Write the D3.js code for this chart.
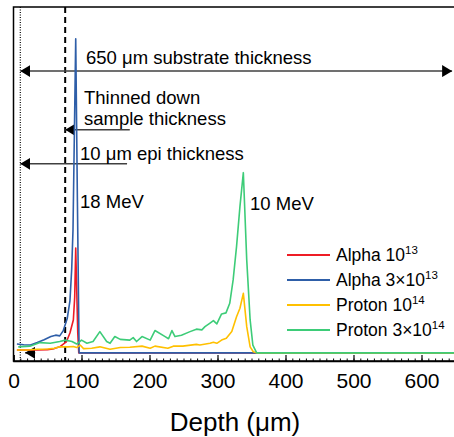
<!DOCTYPE html>
<html>
<head>
<meta charset="utf-8">
<script src="https://cdn.jsdelivr.net/npm/d3@7"></script>
<style>
  body { margin: 0; background: #fff; }
  text { font-family: "Liberation Sans", Arial, sans-serif; fill: #000; }
</style>
</head>
<body>
<div id="chart"></div>
<script>
var svgWidth = 454;
var svgHeight = 437;

// depth (um) and signal (arb. units) for each series
var depthAlpha13 = [5, 20, 35, 50, 60, 68, 78, 83, 88, 90, 91.5, 94.5, 96, 650];
var alpha13 = [3.1, 3.1, 3.1, 3.2, 3.5, 4.0, 5.5, 7.9, 11.6, 18, 31.9, 8, 2.3, 2.3];

var depthAlpha3e13 = [5, 15, 25, 35, 45, 55, 62, 68, 73, 79, 83, 85.6, 87.5, 91.5, 94, 96.5, 650];
var alpha3e13 = [4.8, 4.6, 4.5, 5.2, 6.0, 6.9, 7.3, 7.1, 8.5, 12, 17, 26, 37, 91, 45, 2.3, 2.3];

var depthProton14 = [5, 20, 35, 50, 60, 68, 80, 88, 93, 98, 103, 115, 127, 142, 157, 171, 189, 201, 208, 227,
  235, 249, 269, 274, 289, 294, 299, 306, 313, 321, 328, 333, 338, 343, 348, 352.6, 357.6, 650];
var proton14 = [3.1, 3.1, 3.3, 3.4, 3.6, 4.0, 4.0, 4.1, 3.8, 4.5, 3.5, 3.6, 4.0, 3.3, 3.8, 3.9, 4.2, 3.6, 4.2, 3.6,
  4.2, 4.2, 4.7, 4.5, 5.0, 5.3, 5.0, 5.9, 6.4, 8.3, 12.5, 14.9, 19.1, 9.7, 4.0, 2.6, 2.3, 2.3];

var depthProton3e14 = [7, 24, 39, 54, 68, 76, 86, 93, 100, 108, 117, 127, 137, 142, 149, 157, 171, 176, 181, 189,
  201, 208, 223, 228, 233, 237.5, 247, 259.6, 269, 277, 281.6, 289, 294, 299, 306, 312.5, 318, 323, 328, 333,
  338, 343, 348, 352, 357.6, 650];
var proton3e14 = [4.0, 4.2, 5.2, 5.0, 5.5, 5.9, 5.5, 4.8, 5.9, 5.0, 5.5, 8.3, 5.5, 5.0, 6.9, 6.1, 5.9, 6.6, 5.5, 6.9,
  5.9, 8.6, 6.9, 6.3, 8.6, 6.9, 7.3, 8.3, 9.0, 8.8, 9.7, 10.7, 11.4, 10.5, 13.3, 13.6, 16.3, 22.9, 32.3, 43.6,
  53.2, 28.5, 11.6, 4.5, 2.3, 2.3];

var seriesNames = ["Alpha 10", "Alpha 3\u00d710", "Proton 10", "Proton 3\u00d710"];
var seriesExp = ["13", "13", "14", "14"];
var seriesColors = ["#ee1c25", "#2e5ea8", "#ffc000", "#3dcc78"];

var xTicks = [0, 100, 200, 300, 400, 500, 600];

var epiDepth = 10;
var thinnedDepth = 76;

var svg = d3.select("#chart")
  .append("svg")
  .attr("width", svgWidth)
  .attr("height", svgHeight);

var x = d3.scaleLinear().domain([0, 650]).range([13.5, 455.5]);
var y = d3.scaleLinear().domain([0, 100]).range([361, 7]);

// frame
svg.append("rect")
  .attr("x", x(0)).attr("y", y(100))
  .attr("width", x(650) - x(0)).attr("height", y(0) - y(100))
  .attr("fill", "none").attr("stroke", "#000").attr("stroke-width", 1.5);

// minor ticks
svg.append("g")
  .attr("transform", `translate(0, ${y(0)})`)
  .call(d3.axisBottom(x).tickValues(d3.range(0, 651, 10)).tickSize(-2.5).tickFormat(""))
  .call(g => g.select(".domain").remove())
  .selectAll("line").attr("stroke-width", 1);

// major ticks + labels
var xAxis = svg.append("g")
  .attr("transform", `translate(0, ${y(0)})`)
  .call(d3.axisBottom(x).tickValues(xTicks).tickSize(-6).tickPadding(12).tickFormat(d3.format("d")));
xAxis.select(".domain").attr("stroke-width", 1.5);
xAxis.selectAll("line").attr("stroke-width", 1.2);
xAxis.selectAll("text")
  .style("font-family", "Liberation Sans, Arial, sans-serif")
  .style("font-size", "21px")
  .attr("fill", "#000");

svg.append("text")
  .attr("x", 235).attr("y", 431)
  .attr("text-anchor", "middle")
  .style("font-size", "26px")
  .text("Depth (\u03bcm)");

// reference lines
svg.append("line")
  .attr("x1", x(epiDepth)).attr("x2", x(epiDepth))
  .attr("y1", y(100)).attr("y2", y(0))
  .attr("stroke", "#000").attr("stroke-width", 1.2).attr("stroke-dasharray", "1,1.5");

svg.append("line")
  .attr("x1", x(thinnedDepth)).attr("x2", x(thinnedDepth))
  .attr("y1", y(100)).attr("y2", y(0))
  .attr("stroke", "#000").attr("stroke-width", 2).attr("stroke-dasharray", "6,4");

// arrow markers
var defs = svg.append("defs");
defs.append("marker")
  .attr("id", "arrow")
  .attr("viewBox", "0 0 10 12")
  .attr("refX", 10).attr("refY", 6)
  .attr("markerWidth", 10).attr("markerHeight", 12)
  .attr("markerUnits", "userSpaceOnUse")
  .attr("orient", "auto-start-reverse")
  .append("path")
  .attr("d", "M0,0 L10,6 L0,12 Z")
  .attr("fill", "#000");

function arrow(d1, d2, v, both) {
  var l = svg.append("line")
    .attr("x1", x(d1)).attr("x2", x(d2))
    .attr("y1", y(v)).attr("y2", y(v))
    .attr("stroke", "#404040").attr("stroke-width", 1.5)
    .attr("marker-end", "url(#arrow)");
  if (both) l.attr("marker-start", "url(#arrow)");
}

arrow(epiDepth, 645, 81.9, true);
arrow(171, thinnedDepth, 65.3, false);
arrow(167, epiDepth, 55.7, false);
arrow(32, 17, 2.3, false);

// series
var line = d3.line()
  .x(d => x(d[0]))
  .y(d => y(d[1]));

var allSeries = [
  d3.zip(depthAlpha13, alpha13),
  d3.zip(depthAlpha3e13, alpha3e13),
  d3.zip(depthProton14, proton14),
  d3.zip(depthProton3e14, proton3e14)
];

allSeries.forEach(function(s, i) {
  svg.append("path")
    .datum(s)
    .attr("d", line)
    .attr("fill", "none")
    .attr("stroke", seriesColors[i])
    .attr("stroke-width", 1.6)
    .attr("stroke-linejoin", "round");
});

// annotations
function note(px, py, txt) {
  svg.append("text")
    .attr("x", px).attr("y", py)
    .style("font-size", "18.5px")
    .text(txt);
}
note(86, 64, "650 \u03bcm substrate thickness");
note(84, 104, "Thinned down");
note(84, 125, "sample thickness");
note(80, 160, "10 \u03bcm epi thickness");
note(80, 208, "18 MeV");
note(250, 210, "10 MeV");

// legend
var legend = svg.append("g").attr("transform", "translate(287, 255)");
seriesNames.forEach(function(name, i) {
  var row = legend.append("g").attr("transform", `translate(0, ${i * 25})`);
  row.append("line")
    .attr("x1", 0).attr("x2", 43)
    .attr("stroke", seriesColors[i]).attr("stroke-width", 1.8);
  var t = row.append("text")
    .attr("x", 49).attr("y", 6)
    .style("font-size", "17.5px")
    .text(name);
  t.append("tspan")
    .attr("dy", -7)
    .style("font-size", "11.5px")
    .text(seriesExp[i]);
});
</script>
</body>
</html>
